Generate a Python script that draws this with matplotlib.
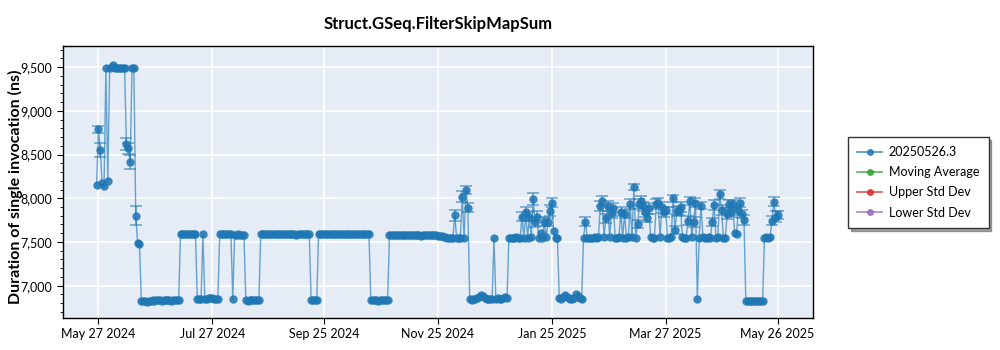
import numpy as np
import pandas as pd
import matplotlib
matplotlib.use("Agg")
import matplotlib.pyplot as plt
import matplotlib.dates as mdates
from matplotlib.ticker import FuncFormatter, MultipleLocator
from matplotlib.lines import Line2D

plt.rcParams['font.family'] = ['Lato', 'DejaVu Sans']

title = "Struct.GSeq.FilterSkipMapSum"
y_label = "Duration of single invocation (ns)"
series_names = ["20250526.3", "Moving Average", "Upper Std Dev", "Lower Std Dev"]
series_colors = ["#1f77b4", "#2ca02c", "#d62728", "#9467bd"]

first_day = "2024-05-26"

# one measurement per day (ns), starting at first_day
durations = [
    8150, 8790, 8550, 8170, 8140, 9490, 8200, 9490, 9500, 9530,
    9495, 9490, 9485, 9490, 9495, 9488, 8620, 8570, 8410, 9490,
    9485, 7800, 7490, 7480,
    # d24-44
    6825, 6820, 6822, 6818, 6825, 6830, 6832, 6828, 6835, 6838,
    6832, 6830, 6836, 6834, 6838, 6832, 6830, 6836, 6838, 6834, 6840,
    # d45-53
    7592, 7588, 7590, 7594, 7590, 7588, 7592, 7590, 7586,
    # d54-57
    6845, 6842, 6848, 7590,
    # d58-65
    6850, 6852, 6858, 6860, 6855, 6850, 6848, 6845,
    # d66-79
    7592, 7588, 7594, 7590, 7588, 7586, 7590, 6848, 7584, 7582,
    7586, 7580, 7584, 7582,
    # d80-87
    6835, 6830, 6832, 6838, 6836, 6834, 6840, 6838,
    # d88-114
    7592, 7590, 7594, 7590, 7588, 7586, 7588, 7590, 7592, 7590,
    7588, 7586, 7590, 7588, 7586, 7590, 7592, 7588, 7586, 7584,
    7588, 7590, 7592, 7590, 7594, 7596, 7590,
    # d115-118
    6836, 6832, 6838, 6834,
    # d119-146
    7590, 7588, 7586, 7590, 7592, 7594, 7590, 7588, 7592, 7590,
    7588, 7586, 7590, 7592, 7590, 7588, 7586, 7590, 7588, 7592,
    7590, 7588, 7586, 7590, 7592, 7588, 7590, 7586,
    # d147-156
    6832, 6836, 6834, 6838, 6830, 6834, 6836, 6832, 6838, 6834,
    # d157-185
    7578, 7576, 7580, 7582, 7578, 7576, 7574, 7578, 7580, 7576,
    7574, 7578, 7576, 7580, 7578, 7576, 7574, 7572, 7576, 7578,
    7574, 7576, 7578, 7580, 7576, 7574, 7572, 7570, 7568,
    # d186-199
    7560, 7552, 7545, 7540, 7548, 7545, 7805, 7542, 7540, 7545,
    8020, 7548, 8095, 7893,
    # d200-220
    6844, 6840, 6846, 6850, 6856, 6870, 6894, 6880, 6860, 6850,
    6846, 6848, 6852, 7542, 6850, 6856, 6852, 6848, 6860, 6870, 6858,
    # d221-247
    7545, 7548, 7550, 7546, 7552, 7548, 7545, 7790, 7550, 7840,
    7548, 7790, 7552, 7988, 7725, 7790, 7550, 7600, 7548, 7732,
    7552, 7732, 7858, 7950, 7620, 7550, 7548,
    # d248-260
    6856, 6850, 6870, 6894, 6872, 6856, 6850, 6848, 6860, 6900,
    6880, 6856, 6852,
    # d261-347
    7548, 7732, 7546, 7550, 7548, 7545, 7552, 7548, 7560, 7911,
    7969, 7560, 7771, 7911, 7555, 7828, 7892, 7550, 7548, 7552,
    7847, 7550, 7820, 7548, 7552, 7931, 7555, 8126, 7550, 7706,
    7935, 7972, 7908, 7840, 7778, 7885, 7552, 7548, 7550, 7931,
    7950, 7555, 7897, 7840, 7860, 7550, 7548, 7552, 8000, 7637,
    7850, 7858, 7900, 7555, 7550, 7548, 7744, 7969, 7552, 7725,
    7950, 6848, 7550, 7915, 7552, 7548, 7550, 7555, 7548, 7732,
    7923, 7550, 7552, 8046, 7866, 7550, 7548, 7817, 7931, 7840,
    7931, 7600, 7590, 7866, 7950, 7820, 7752,
    # d348-357
    6828, 6825, 6830, 6826, 6822, 6828, 6830, 6826, 6824, 6828,
    # d358-365
    7548, 7552, 7550, 7560, 7744, 7961, 7790, 7809,
]
assert len(durations) == 366

# days whose runs showed a visible spread, and that spread (ns)
spread_days = [1, 2, 16, 17, 18, 21, 192, 196, 198, 199,
               228, 230, 232, 234, 235, 236, 240, 242, 243, 244,
               262, 270, 271, 273, 274, 276, 277, 281, 283, 286,
               288, 290, 291, 292, 293, 294, 295, 296, 300, 301,
               303, 304, 305, 309, 310, 311, 312, 313, 317, 318,
               320, 321, 324, 330, 331, 334, 335, 338, 339, 340,
               341, 344, 345, 346, 347, 362, 363, 364, 365]
spread_ns = [40, 80, 70, 60, 80, 110, 65, 60, 45, 50,
             55, 60, 50, 70, 55, 60, 50, 45, 60, 50,
             55, 60, 55, 50, 60, 55, 50, 55, 50, 55,
             35, 50, 60, 55, 50, 55, 45, 60, 55, 50,
             60, 55, 45, 40, 50, 55, 50, 60, 50, 45,
             55, 50, 40, 45, 55, 50, 55, 50, 45, 55,
             50, 60, 55, 50, 60, 50, 55, 60, 50]

tick_dates = ["2024-05-27", "2024-07-27", "2024-09-25", "2024-11-25",
              "2025-01-25", "2025-03-27", "2025-05-26"]

dates = pd.date_range(first_day, periods=len(durations), freq="D")
values = np.array(durations, dtype=float)
blue = series_colors[0]

fig = plt.figure(figsize=(10, 3.5), dpi=100)
ax = fig.add_axes([0.063, 0.0914, 0.75, 0.7772])
ax.set_facecolor("#E5ECF6")

# connecting line
ax.plot(dates, values, color=blue, lw=1.0, alpha=0.65, zorder=3)
# error bars on the days with a visible spread
ax.errorbar(dates[spread_days], values[spread_days], yerr=spread_ns,
            fmt="none", ecolor=blue, elinewidth=1.2, capsize=4,
            capthick=1.2, alpha=0.6, zorder=3)
# daily markers
ax.plot(dates, values, ls="none", marker="o", ms=6, mew=0,
        color=blue, alpha=0.88, zorder=4)

ax.set_ylim(6630, 9742)
ax.set_xlim(pd.Timestamp("2024-05-08"), pd.Timestamp("2025-06-14"))
ax.set_xticks(pd.to_datetime(tick_dates))
ax.xaxis.set_major_formatter(mdates.DateFormatter("%b %d %Y"))
ax.yaxis.set_major_locator(MultipleLocator(500))
ax.yaxis.set_minor_locator(MultipleLocator(100))
ax.yaxis.set_major_formatter(FuncFormatter(lambda v, p: f"{int(v):,}"))

ax.grid(True, color="white", lw=1.2, zorder=0)
ax.set_axisbelow(True)
for s in ax.spines.values():
    s.set_color("black")
    s.set_linewidth(1.0)
ax.tick_params(axis="both", which="major", labelsize=9, length=4,
               color="black", labelcolor="black")
ax.tick_params(axis="y", which="minor", length=2.5, color="black")

fig.text(0.015, 0.465, y_label, rotation=90, ha="center", va="center",
         fontsize=11.5, fontweight="bold")
fig.suptitle(title, x=0.438, y=0.955, fontsize=12, fontweight="bold")

handles = [Line2D([0], [0], color=c, marker="o", ms=4, lw=1.2, alpha=0.8)
           for c in series_colors]
leg = fig.legend(handles, series_names, loc="upper left",
                 bbox_to_anchor=(0.848, 0.609), borderaxespad=0,
                 fontsize=9, frameon=True, fancybox=False, shadow=True,
                 handlelength=2.0, borderpad=0.75, labelspacing=0.65,
                 handletextpad=0.5)
leg.get_frame().set_edgecolor("#333333")
leg.get_frame().set_linewidth(1.0)

fig.savefig("out.png", dpi=100)
